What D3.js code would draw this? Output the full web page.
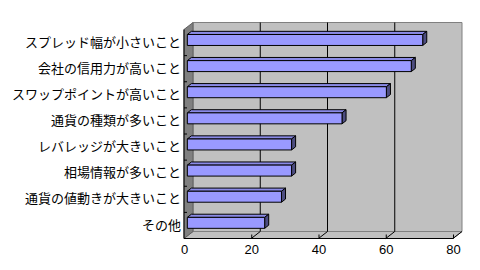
<!DOCTYPE html>
<html>
<head>
<meta charset="utf-8">
<script src="https://cdn.jsdelivr.net/npm/d3@7"></script>
<style>
  body { margin: 0; background: #fff; }
  svg { display: block; }
</style>
</head>
<body>
<div id="chart"></div>
<script>
// categories top to bottom
const categories = [
  "スプレッド幅が小さいこと",
  "会社の信用力が高いこと",
  "スワップポイントが高いこと",
  "通貨の種類が多いこと",
  "レバレッジが大きいこと",
  "相場情報が多いこと",
  "通貨の値動きが大きいこと",
  "その他"
];
const values = [70, 66.6, 59.2, 46, 31, 31, 28, 23];
const xTicks = [0, 20, 40, 60, 80];

class Bar3D {
  constructor(_config) {
    this.config = {
      parentElement: _config.parentElement,
      containerWidth: _config.containerWidth || 480,
      containerHeight: _config.containerHeight || 270,
      // front plane of the plot box
      plot: { left: 184, right: 453, top: 29.5, bottom: 238.5 },
      // depth offset of the back wall
      depth: { dx: 9, dy: 7 }
    }
    this.initVis();
  }

  initVis() {
    let vis = this;
    vis.svg = d3.select(vis.config.parentElement).append("svg")
      .attr("width", vis.config.containerWidth)
      .attr("height", vis.config.containerHeight);

    vis.xScale = d3.scaleLinear()
      .domain([0, 80])
      .range([vis.config.plot.left, vis.config.plot.right]);

    vis.yScale = d3.scaleBand()
      .domain(categories)
      .range([vis.config.plot.top, vis.config.plot.bottom])
      .paddingInner(0.58)
      .paddingOuter(0.29);

    // project (x, y, z) onto the screen, z = 0 front .. 1 back
    vis.proj = (x, y, z) => [x + z * vis.config.depth.dx, y - z * vis.config.depth.dy];
    vis.poly = pts => pts.map(p => vis.proj(p[0], p[1], p[2]).join(",")).join(" ");

    vis.renderVis();
  }

  renderVis() {
    let vis = this;
    const p = vis.config.plot;
    const x = vis.xScale, y = vis.yScale;

    // back wall
    vis.svg.append("polygon")
      .attr("points", vis.poly([[p.left, p.top, 1], [p.right, p.top, 1], [p.right, p.bottom, 1], [p.left, p.bottom, 1]]))
      .attr("fill", "#c0c0c0")
      .attr("stroke", "#808080");

    // floor
    vis.svg.append("polygon")
      .attr("points", vis.poly([[p.left, p.bottom, 0], [p.left, p.bottom, 1], [p.right, p.bottom, 1], [p.right, p.bottom, 0]]))
      .attr("fill", "#c0c0c0")
      .attr("stroke", "#808080");

    // side wall
    vis.svg.append("polygon")
      .attr("points", vis.poly([[p.left, p.top, 0], [p.left, p.top, 1], [p.left, p.bottom, 1], [p.left, p.bottom, 0]]))
      .attr("fill", "#808080")
      .attr("stroke", "#606060");

    // gridlines on back wall + their run down the floor
    const grid = vis.svg.append("g").attr("stroke", "#000").attr("fill", "none");
    grid.selectAll(".gv").data(xTicks.filter(d => d > 0 && d < 80)).enter()
      .append("polyline")
      .attr("points", d => vis.poly([[x(d), p.top, 1], [x(d), p.bottom, 1]]));
    grid.selectAll(".gf").data(xTicks.filter(d => d > 0)).enter()
      .append("polyline")
      .attr("points", d => vis.poly([[x(d), p.bottom, 1], [x(d), p.bottom, 0]]));
    grid.selectAll(".gt").data(xTicks.filter(d => d > 0)).enter()
      .append("line")
      .attr("x1", d => x(d) + 0.5).attr("x2", d => x(d) + 0.5)
      .attr("y1", p.bottom - 4).attr("y2", p.bottom);

    // category ticks
    grid.selectAll(".ct").data(categories.slice(1)).enter()
      .append("line")
      .attr("x1", p.left).attr("x2", p.left + 3)
      .attr("y1", d => y(d) - y.step() * y.paddingInner() / 2)
      .attr("y2", d => y(d) - y.step() * y.paddingInner() / 2);

    // bars
    const z0 = 0.37, z1 = 0.82;
    const bars = vis.svg.append("g")
      .selectAll("g").data(categories).enter()
      .append("g")
      .attr("stroke", "#000")
      .attr("stroke-width", 1)
      .attr("stroke-linejoin", "round");

    bars.append("polygon")
      .attr("fill", "#8a8ae6")
      .attr("points", (d, i) => vis.poly([[x(0), y(d), z0], [x(values[i]), y(d), z0], [x(values[i]), y(d), z1], [x(0), y(d), z1]]));
    bars.append("polygon")
      .attr("fill", "#4d4d80")
      .attr("points", (d, i) => vis.poly([[x(values[i]), y(d), z0], [x(values[i]), y(d), z1], [x(values[i]), y(d) + y.bandwidth(), z1], [x(values[i]), y(d) + y.bandwidth(), z0]]));
    bars.append("polygon")
      .attr("fill", "#9999ff")
      .attr("points", (d, i) => vis.poly([[x(0), y(d), z0], [x(values[i]), y(d), z0], [x(values[i]), y(d) + y.bandwidth(), z0], [x(0), y(d) + y.bandwidth(), z0]]));

    // front axis lines
    vis.svg.append("line")
      .attr("x1", p.left).attr("x2", p.left).attr("y1", p.top).attr("y2", p.bottom)
      .attr("stroke", "#000");
    vis.svg.append("line")
      .attr("x1", p.left).attr("x2", p.right).attr("y1", p.bottom).attr("y2", p.bottom)
      .attr("stroke", "#000");

    // axis labels
    const xAxis = d3.axisBottom(x).tickValues(xTicks).tickSize(0).tickPadding(6);
    vis.svg.append("g")
      .attr("transform", `translate(0,${p.bottom})`)
      .call(xAxis)
      .call(g => g.select(".domain").remove())
      .selectAll("text")
      .attr("font-family", "'Liberation Sans', Arial, sans-serif")
      .attr("font-size", 13)
      .attr("fill", "#000");

    const yAxis = d3.axisLeft(y).tickSize(0).tickPadding(3);
    vis.svg.append("g")
      .attr("transform", `translate(${p.left},0)`)
      .call(yAxis)
      .call(g => g.select(".domain").remove())
      .selectAll("text")
      .attr("font-family", "'Noto Sans CJK JP', sans-serif")
      .attr("font-size", 13)
      .attr("fill", "#000");
  }
}

new Bar3D({ parentElement: "#chart" });
</script>
</body>
</html>
